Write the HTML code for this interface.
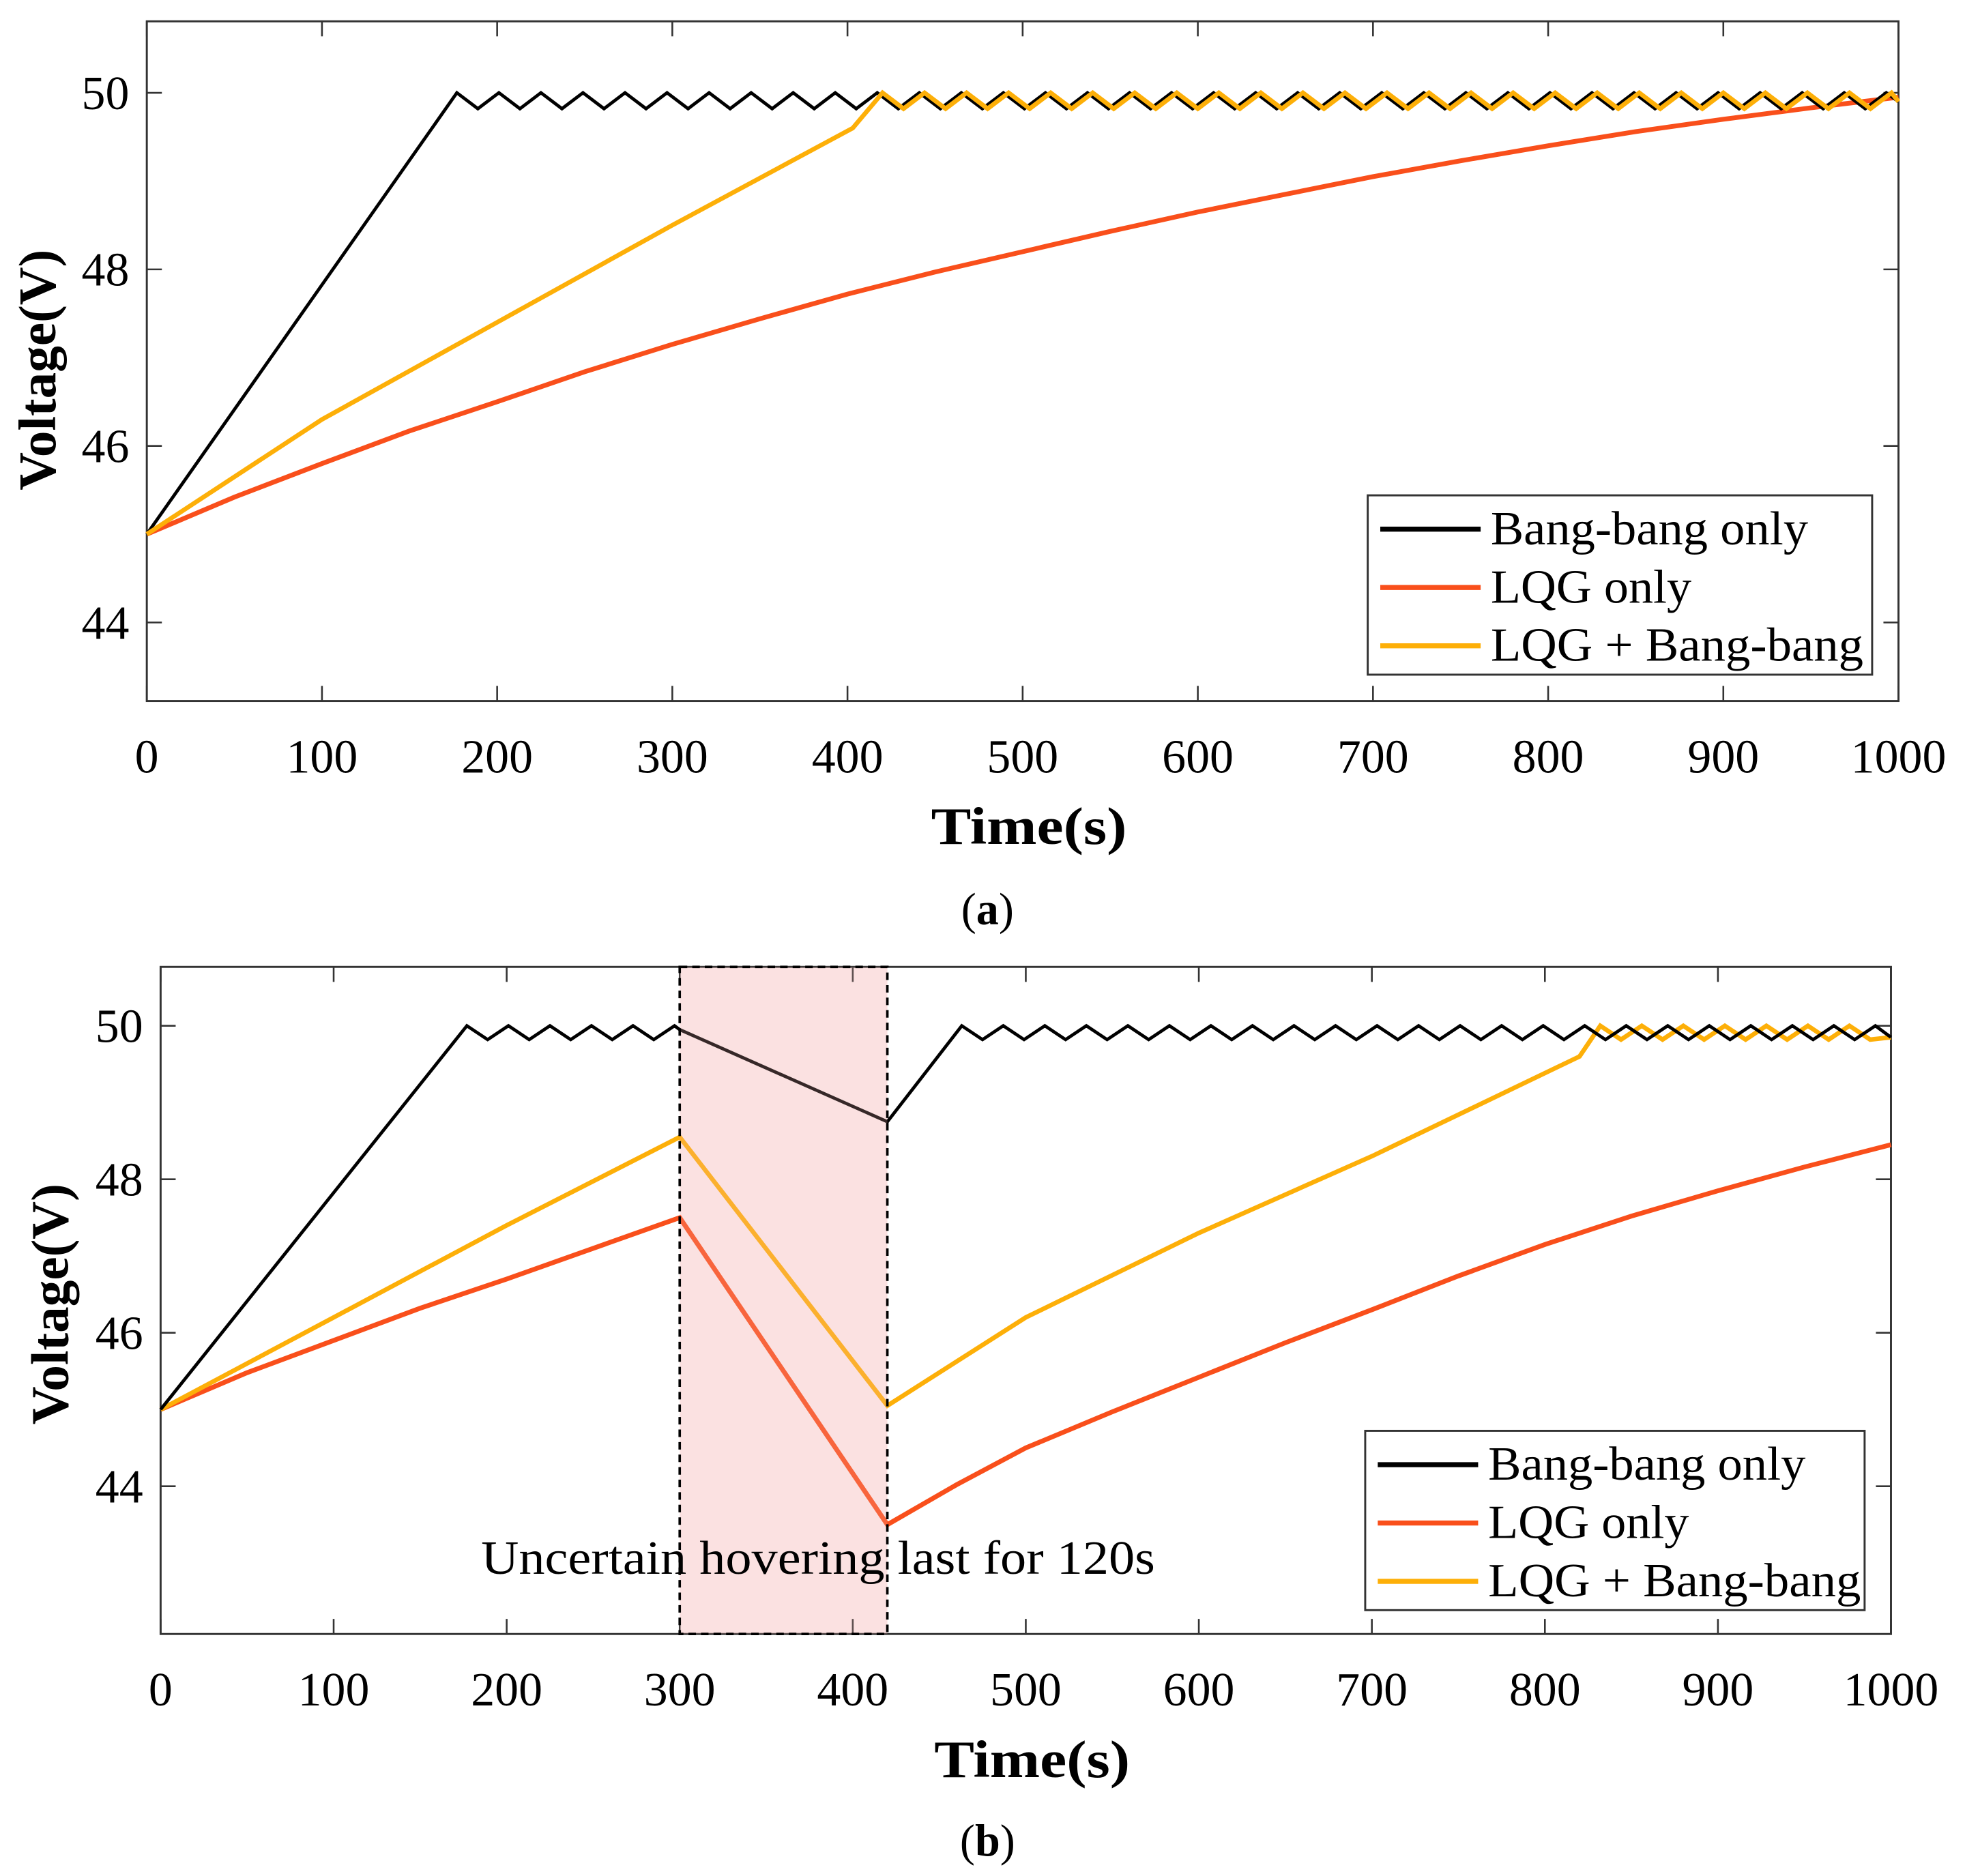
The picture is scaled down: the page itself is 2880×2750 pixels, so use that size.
<!DOCTYPE html>
<html><head><meta charset="utf-8">
<style>
html,body{margin:0;padding:0;background:#fff;}
svg{display:block;}
text{font-family:"Liberation Serif",serif;fill:#000;}
</style></head>
<body>
<svg id="fig" width="2880" height="2750" viewBox="0 0 1566 1496" preserveAspectRatio="none" xmlns="http://www.w3.org/2000/svg"></svg>
<script>
// ---------- Chart (a) data ----------
const xTicks = [0,100,200,300,400,500,600,700,800,900,1000];
const yTicks = [44,46,48,50];
const legendLabels = ["Bang-bang only","LQG only","LQG + Bang-bang"];

const aBlackT = [0,177,189,201,213,225,237,249,261,273,285,297,309,321,333,345,357,369,381,393,405,417,429,441,453,465,477,489,501,513,525,537,549,561,573,585,597,609,621,633,645,657,669,681,693,705,717,729,741,753,765,777,789,801,813,825,837,849,861,873,885,897,909,921,933,945,957,969,981,993,1000];
const aBlackV = [45,50,49.82,50,49.82,50,49.82,50,49.82,50,49.82,50,49.82,50,49.82,50,49.82,50,49.82,50,49.82,50,49.82,50,49.82,50,49.82,50,49.82,50,49.82,50,49.82,50,49.82,50,49.82,50,49.82,50,49.82,50,49.82,50,49.82,50,49.82,50,49.82,50,49.82,50,49.82,50,49.82,50,49.82,50,49.82,50,49.82,50,49.82,50,49.82,50,49.82,50,49.82,50,49.9];
const aOrangeT = [0,50,100,150,200,250,300,350,400,450,500,550,600,650,700,750,800,850,900,950,1000];
const aOrangeV = [45,45.42,45.8,46.17,46.5,46.84,47.15,47.44,47.72,47.97,48.2,48.43,48.65,48.85,49.05,49.23,49.4,49.56,49.7,49.83,49.95];
const aYellowT = [0,100,200,300,403,420,432,444,456,468,480,492,504,516,528,540,552,564,576,588,600,612,624,636,648,660,672,684,696,708,720,732,744,756,768,780,792,804,816,828,840,852,864,876,888,900,912,924,936,948,960,972,984,996,1000];
const aYellowV = [45,46.3,47.4,48.5,49.6,50,49.82,50,49.82,50,49.82,50,49.82,50,49.82,50,49.82,50,49.82,50,49.82,50,49.82,50,49.82,50,49.82,50,49.82,50,49.82,50,49.82,50,49.82,50,49.82,50,49.82,50,49.82,50,49.82,50,49.82,50,49.82,50,49.82,50,49.82,50,49.82,50,49.9];

// ---------- Chart (b) data ----------
const bBlackT = [0,177,189,201,213,225,237,249,261,273,285,297,300,420,463,475,487,499,511,523,535,547,559,571,583,595,607,619,631,643,655,667,679,691,703,715,727,739,751,763,775,787,799,811,823,835,847,859,871,883,895,907,919,931,943,955,967,979,991,1000];
const bBlackV = [45,50,49.82,50,49.82,50,49.82,50,49.82,50,49.82,50,49.95,48.75,50,49.82,50,49.82,50,49.82,50,49.82,50,49.82,50,49.82,50,49.82,50,49.82,50,49.82,50,49.82,50,49.82,50,49.82,50,49.82,50,49.82,50,49.82,50,49.82,50,49.82,50,49.82,50,49.82,50,49.82,50,49.82,50,49.82,50,49.85];
const bOrangeT = [0,50,100,150,200,250,300,420,460,500,550,600,650,700,750,800,850,900,950,1000];
const bOrangeV = [45,45.48,45.9,46.32,46.7,47.1,47.5,43.5,44.02,44.5,44.97,45.42,45.87,46.3,46.74,47.15,47.52,47.85,48.16,48.45];
const bYellowT = [0,100,200,300,420,500,600,700,820,832,844,856,868,880,892,904,916,928,940,952,964,976,988,1000];
const bYellowV = [45,46.2,47.4,48.55,45.05,46.2,47.3,48.3,49.6,50,49.82,50,49.82,50,49.82,50,49.82,50,49.82,50,49.82,50,49.82,49.85];

const NS = "http://www.w3.org/2000/svg";
const svg = document.getElementById('fig');
function el(tag, attrs, parent, txt){
  const e = document.createElementNS(NS, tag);
  for (const k in attrs) e.setAttribute(k, attrs[k]);
  if (txt !== undefined) e.textContent = txt;
  (parent||svg).appendChild(e);
  return e;
}
const COLORS = ["#000000","#f94f1b","#fdaf08"];

function chart(cfg){
  const g = el('g', {});
  
  
  const X = v => cfg.x0 + (v - 0) / 1000 * (cfg.x1 - cfg.x0);
  const Y = v => cfg.yAt50 + (50 - v) * cfg.pxPerV;

  if (cfg.shade){
    const r = el('rect', {x:X(cfg.shade[0]), y:cfg.top, width:X(cfg.shade[1])-X(cfg.shade[0]), height:cfg.bottom-cfg.top, fill:'#fdeeee'}, g);
    
    
  }
  const box = el('rect', {x:cfg.x0, y:cfg.top, width:cfg.x1-cfg.x0, height:cfg.bottom-cfg.top, fill:'none', stroke:'#333', 'stroke-width':1.6}, g);
  
  
  xTicks.forEach(t => {
    const x = X(t);
    el('line', {x1:x, x2:x, y1:cfg.bottom, y2:cfg.bottom-12, stroke:'#333','stroke-width':1.4}, g);
    el('line', {x1:x, x2:x, y1:cfg.top, y2:cfg.top+12, stroke:'#333','stroke-width':1.4}, g);
    const tl = el('text', {x:x, y:cfg.bottom+57, 'font-size':38, 'text-anchor':'middle'}, g, String(t));
    
    
  });
  yTicks.forEach(t => {
    const y = Y(t);
    el('line', {x1:cfg.x0, x2:cfg.x0+12, y1:y, y2:y, stroke:'#333','stroke-width':1.4}, g);
    el('line', {x1:cfg.x1, x2:cfg.x1-12, y1:y, y2:y, stroke:'#333','stroke-width':1.4}, g);
    const tl = el('text', {x:cfg.x0-14, y:y+13, 'font-size':38, 'text-anchor':'end'}, g, String(t));
    
    
  });
  const series = [[cfg.bt,cfg.bv,2.6,'series-bang-bang'],[cfg.ot,cfg.ov,3.8,'series-lqg'],[cfg.yt,cfg.yv,3.6,'series-lqg-bang-bang']];
  const order = cfg.name === 'chart-a' ? [1,0,2] : [1,2,0];
  order.forEach(i => {
    const s = series[i];
    const pts = s[0].map((t,k) => X(t).toFixed(2)+','+Y(s[1][k]).toFixed(2)).join(' ');
    const p = el('polyline', {points:pts, fill:'none', stroke:COLORS[i], 'stroke-width':s[2], 'stroke-linejoin':'miter'}, g);
    
    
  });
  if (cfg.shade){
    const ov = el('rect', {x:X(cfg.shade[0]), y:cfg.top, width:X(cfg.shade[1])-X(cfg.shade[0]), height:cfg.bottom-cfg.top, fill:'#f5b5b5', 'fill-opacity':0.22, stroke:'#000', 'stroke-width':2, 'stroke-dasharray':'6,4'}, g);
    
    
    const at = el('text', {x:652, y:cfg.annY, 'font-size':38, 'text-anchor':'middle', textLength:537, lengthAdjust:'spacingAndGlyphs'}, g, 'Uncertain hovering last for 120s');
    
    
  }
  const lg = el('g', {}, g);
  
  
  el('rect', {x:cfg.lx, y:cfg.ly, width:cfg.lw, height:143, fill:'#fff', stroke:'#333', 'stroke-width':1.6}, lg);
  const widths = [253,160,297];
  legendLabels.forEach((lab,i) => {
    const y = cfg.ly + 27 + i*46.5;
    const e = el('g', {}, lg);
    
    
    el('line', {x1:cfg.lx+10, x2:cfg.lx+90, y1:y, y2:y, stroke:COLORS[i], 'stroke-width':4}, e);
    el('text', {x:cfg.lx+98, y:y+12, 'font-size':38, textLength:widths[i], lengthAdjust:'spacingAndGlyphs'}, e, lab);
  });
  const xt = el('text', {x:(cfg.x0+cfg.x1)/2+5, y:cfg.bottom+114, 'font-size':42, 'font-weight':'bold', 'text-anchor':'middle', textLength:156, lengthAdjust:'spacingAndGlyphs'}, g, 'Time(s)');
  
  
  const yt = el('text', {x:0, y:0, 'font-size':42, 'font-weight':'bold', 'text-anchor':'middle', transform:`translate(${cfg.ytx},${cfg.yty}) rotate(-90)`}, g, 'Voltage(V)');
  
  
  const cap = el('text', {x:787, y:cfg.capY, 'font-size':36, 'text-anchor':'middle'}, g);
  
  
  el('tspan', {}, cap, '(');
  el('tspan', {'font-weight':'bold'}, cap, cfg.cap);
  el('tspan', {}, cap, ')');
}

chart({name:'chart-a', x0:117, x1:1513, top:17, bottom:559, yAt50:74, pxPerV:70.4,
  bt:aBlackT, bv:aBlackV, ot:aOrangeT, ov:aOrangeV, yt:aYellowT, yv:aYellowV,
  lx:1090, ly:395, lw:402, ytx:44, yty:295, capY:737, cap:'a'});
chart({name:'chart-b', x0:128, x1:1507, top:771, bottom:1303, yAt50:818, pxPerV:61.2,
  bt:bBlackT, bv:bBlackV, ot:bOrangeT, ov:bOrangeV, yt:bYellowT, yv:bYellowV,
  shade:[300,420], annY:1255,
  lx:1088, ly:1141, lw:398, ytx:54, yty:1040, capY:1480, cap:'b'});
</script>
</body></html>
